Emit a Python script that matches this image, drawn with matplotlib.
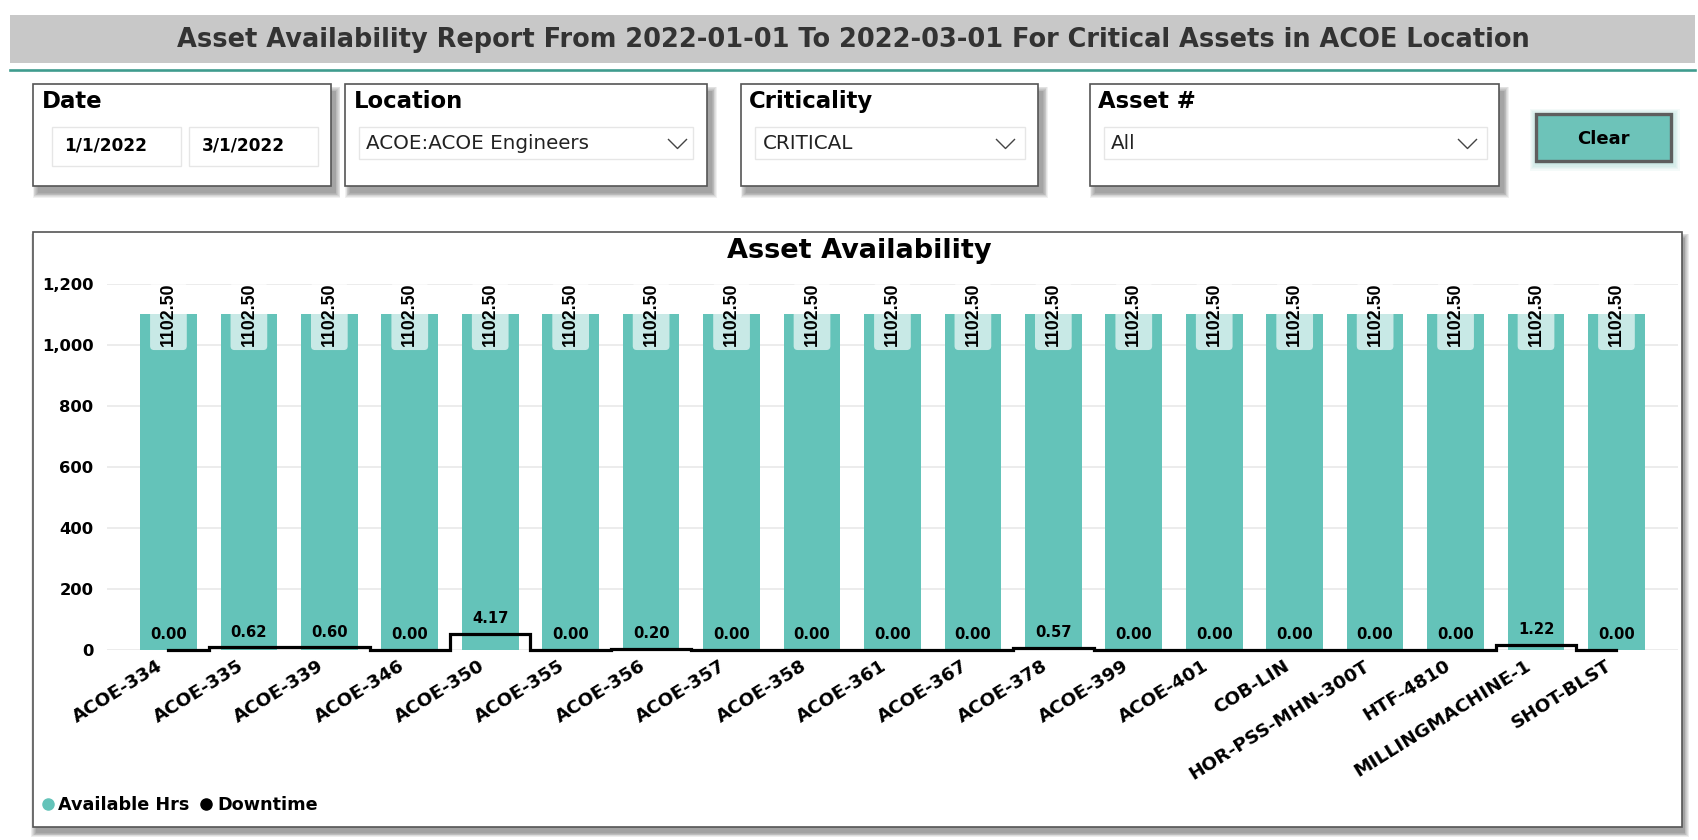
import matplotlib
matplotlib.use("Agg")
import matplotlib.pyplot as plt
import matplotlib.transforms as mtransforms
from matplotlib.patches import Rectangle, FancyBboxPatch
from matplotlib.lines import Line2D
import numpy as np

# ---------------- data ----------------
assets = ["ACOE-334", "ACOE-335", "ACOE-339", "ACOE-346", "ACOE-350", "ACOE-355",
          "ACOE-356", "ACOE-357", "ACOE-358", "ACOE-361", "ACOE-367", "ACOE-378",
          "ACOE-399", "ACOE-401", "COB-LIN", "HOR-PSS-MHN-300T", "HTF-4810",
          "MILLINGMACHINE-1", "SHOT-BLST"]
available_hrs = [1102.50, 1102.50, 1102.50, 1102.50, 1102.50, 1102.50, 1102.50,
                 1102.50, 1102.50, 1102.50, 1102.50, 1102.50, 1102.50, 1102.50,
                 1102.50, 1102.50, 1102.50, 1102.50, 1102.50]
downtime = [0.00, 0.62, 0.60, 0.00, 4.17, 0.00, 0.20, 0.00, 0.00, 0.00, 0.00,
            0.57, 0.00, 0.00, 0.00, 0.00, 0.00, 1.22, 0.00]
y_ticks = [0, 200, 400, 600, 800, 1000, 1200]

report_title = "Asset Availability Report From 2022-01-01 To 2022-03-01 For Critical Assets in ACOE Location"
chart_title = "Asset Availability"
date_from = "1/1/2022"
date_to = "3/1/2022"
location_sel = "ACOE:ACOE Engineers"
criticality_sel = "CRITICAL"
asset_sel = "All"
series_names = ["Available Hrs", "Downtime"]

# ---------------- style ----------------
TEAL = "#64c3b9"
plt.rcParams["font.family"] = ["DejaVu Sans"]

W, H = 1698, 840
fig = plt.figure(figsize=(W / 100, H / 100), dpi=100)
fig.patch.set_facecolor("white")


def fx(x):
    return x / W


def fy(y):
    return 1 - y / H


def rect(x0, y0, x1, y1, **kw):
    r = Rectangle((fx(x0), fy(y1)), (x1 - x0) / W, (y1 - y0) / H,
                  transform=fig.transFigure, **kw)
    fig.add_artist(r)
    return r


def hline(x0, x1, y, **kw):
    fig.add_artist(Line2D([fx(x0), fx(x1)], [fy(y), fy(y)],
                          transform=fig.transFigure, **kw))


def shadow(x0, y0, x1, y1, dx=5, dy=7, layers=7, spread=0.8, alpha=0.06, z=-3,
           color="black"):
    for k in range(layers):
        e = k * spread
        rect(x0 + dx - e, y0 + dy - e, x1 + dx + e, y1 + dy + e,
             fc=color, ec="none", alpha=alpha, zorder=z)


def chevron(cx, cy):
    fig.add_artist(Line2D([fx(cx - 9), fx(cx), fx(cx + 9)],
                          [fy(cy - 4.5), fy(cy + 4.5), fy(cy - 4.5)],
                          transform=fig.transFigure, color="#444444", lw=1.0))


renderer = fig.canvas.get_renderer()


def fit_size(s, target_px, height_pt, weight="bold", wfrac=0.75):
    t = fig.text(0, 0, s, fontsize=10, fontweight=weight)
    w = t.get_window_extent(renderer).width
    t.remove()
    return wfrac * (10 * target_px / w) + (1 - wfrac) * height_pt


# ---------------- header ----------------
rect(10, 15, 1695, 62.7, fc="#c8c8c8", ec="none", zorder=-1)
hline(10, 1695, 69.5, color="#3f9c8e", lw=1.9)
fig.text(fx(853), fy(40), report_title, ha="center", va="center",
         fontsize=fit_size(report_title, 1352, 16.5, wfrac=1.0), fontweight="bold",
         color="#333333")

# ---------------- filter cards ----------------
CY0, CY1 = 84.3, 186
card_title_size = fit_size("Location", 115, 14.0)
cards = [
    (32.5, 330.6, "Date", 41.5),
    (344.7, 706.9, "Location", 353.4),
    (740.5, 1038.2, "Criticality", 749.0),
    (1089.6, 1499.0, "Asset #", 1097.7),
]
for x0, x1, title, tx in cards:
    shadow(x0, CY0, x1, CY1)
    rect(x0, CY0, x1, CY1, fc="white", ec="#555555", lw=1.2, zorder=1)
    fig.text(fx(tx), fy(108), title, ha="left", va="baseline",
             fontsize=card_title_size, fontweight="bold", color="black", zorder=3)

# date inputs
for bx0, bx1, txt, tx in [(51.5, 180.5, date_from, 64), (188.6, 318.2, date_to, 201.6)]:
    rect(bx0, 127, bx1, 166, fc="white", ec="#e6e6e6", lw=1.0, zorder=2)
    fig.text(fx(tx), fy(146), txt, ha="left", va="center", fontsize=12.2,
             fontweight="bold", color="black", zorder=3)

# dropdowns
dropdowns = [
    (358.9, 692.8, location_sel, 366.4, 677.5),
    (755.0, 1024.7, criticality_sel, 763.0, 1005.5),
    (1104.2, 1486.6, asset_sel, 1111.0, 1467.5),
]
for dx0, dx1, txt, tx, cx in dropdowns:
    rect(dx0, 126.7, dx1, 159.3, fc="white", ec="#e6e6e6", lw=1.0, zorder=2)
    fig.text(fx(tx), fy(143.5), txt, ha="left", va="center", fontsize=14.3,
             color="#222222", zorder=3)
    chevron(cx, 144)

# clear button with glow
for k in range(6):
    e = 1 + k * 1.3
    rect(1536 - e + 1, 114.3 - e + 2, 1671 + e + 1, 161 + e + 2,
         fc="#4fb3a6", ec="none", alpha=0.06, zorder=1)
rect(1536, 114.3, 1671, 161, fc="#6dc3b9", ec="#5e5e5e", lw=2.4, zorder=2)
fig.text(fx(1603.5), fy(139), "Clear", ha="center", va="center", fontsize=13,
         fontweight="bold", color="black", zorder=3)

# ---------------- chart card ----------------
shadow(32.7, 232, 1681.5, 826.7, dx=3, dy=6, layers=6, spread=0.9, alpha=0.07)
rect(32.7, 232, 1681.5, 826.7, fc="white", ec="#555555", lw=1.2, zorder=-1)
fig.text(fx(859), fy(251), chart_title, ha="center", va="center",
         fontsize=fit_size(chart_title, 268, 16.5, wfrac=0.9), fontweight="bold",
         color="black")

AX_L, AX_R, AX_T, AX_B = 107.3, 1677.6, 284.3, 650.3
ax = fig.add_axes([fx(AX_L), fy(AX_B), (AX_R - AX_L) / W, (AX_B - AX_T) / H])
ax.set_facecolor("none")
x = np.arange(len(assets))
bars = ax.bar(x, available_hrs, width=0.705, color=TEAL, zorder=2)
ax.set_xlim(-0.76, len(assets) - 0.24)
ax.set_ylim(0, 1200)
ax.set_yticks(y_ticks)
ax.set_yticklabels([f"{v:,}" for v in y_ticks], fontsize=11.8, fontweight="bold")
ax.yaxis.grid(True, color="#ebebeb", lw=1.3)
ax.set_axisbelow(True)
for s in ax.spines.values():
    s.set_visible(False)
ax.tick_params(axis="both", length=0)
ax.tick_params(axis="y", pad=10)
ax.tick_params(axis="x", pad=4.8)
ax.set_xticks(x)
ax.set_xticklabels(assets, rotation=32, ha="right", rotation_mode="anchor",
                   fontsize=13.3, fontweight="bold")
shift = mtransforms.ScaledTranslation(-8.6 / 72, 0, fig.dpi_scale_trans)
for lbl in ax.get_xticklabels():
    lbl.set_transform(lbl.get_transform() + shift)

# bar value labels (rotated, with translucent white background)
px_per_x = (AX_R - AX_L) / (ax.get_xlim()[1] - ax.get_xlim()[0])
px_per_y = (AX_B - AX_T) / 1200.0
box_w = 36.7 / px_per_x
box_bot = 1102.5 - 36 / px_per_y
box_top = 1102.5 + 31 / px_per_y
for xi, v in zip(x, available_hrs):
    b = FancyBboxPatch((xi - box_w / 2, box_bot), box_w, box_top - box_bot,
                       boxstyle=f"round,pad=0,rounding_size={4 / px_per_x}",
                       mutation_aspect=px_per_x / px_per_y,
                       fc="white", ec="none", alpha=0.65, zorder=3, clip_on=False)
    ax.add_patch(b)
    ax.text(xi, v, f"{v:.2f}", rotation=90, ha="center", va="center",
            fontsize=12.8, fontweight="bold", family=["Liberation Sans", "DejaVu Sans"],
            color="black", zorder=4, clip_on=False)

# downtime stepped line on hidden secondary axis
ax2 = ax.twinx()
ax2.set_ylim(-0.15, 95)
ax2.set_xlim(ax.get_xlim())
ax2.axis("off")
ax2.step(x, downtime, where="mid", color="black", lw=2.3, zorder=5,
         solid_joinstyle="miter", clip_on=False)
for xi, d in zip(x, downtime):
    ax2.annotate(f"{d:.2f}", (xi, d), xytext=(0, 11), textcoords="offset points",
                 ha="center", va="center", fontsize=10.6, fontweight="bold",
                 color="black")

# legend
handles = [Line2D([], [], marker="o", ls="none", color=TEAL, ms=8),
           Line2D([], [], marker="o", ls="none", color="black", ms=8)]
fig.legend(handles, series_names, loc="center left",
           bbox_to_anchor=(fx(42.5), fy(805)), ncol=2, frameon=False,
           handlelength=0.6, handletextpad=0.3, columnspacing=0.64,
           borderaxespad=0, borderpad=0,
           prop={"size": 12.7, "weight": "bold"})

fig.savefig("out.png", dpi=100, facecolor="white")
